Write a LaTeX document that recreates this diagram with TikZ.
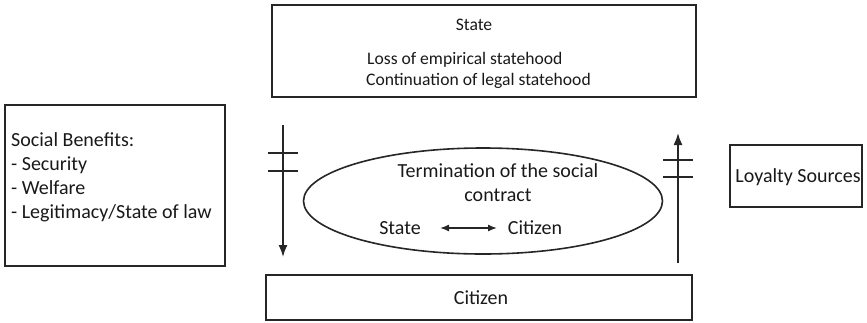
\documentclass[tikz,border=0pt]{standalone}
\usepackage{fontspec}
\setmainfont{Carlito}
\usetikzlibrary{arrows.meta,shapes.geometric}
\begin{document}
\begin{tikzpicture}[x=1pt,y=-1pt,
  box/.style={draw=black!85,line width=1.6pt,inner sep=0pt},
  lbl/.style={font=\fontsize{20}{24}\selectfont,text=black!90,inner sep=0pt},
  slbl/.style={font=\fontsize{17.6}{21}\selectfont,text=black!90,inner sep=0pt},
  conn/.style={draw=black!85,line width=1.6pt},
  tick/.style={draw=black!85,line width=1.4pt}]
\useasboundingbox (0,0) rectangle (867,322);
% boxes
\draw[box] (272,5) rectangle (696,97);
\draw[box] (5,105) rectangle (225,266);
\draw[box] (730,145) rectangle (862,207);
\draw[box] (266,275) rectangle (692,320);
\node[box,ellipse,minimum width=359pt,minimum height=106pt] (ell) at (483,201) {};
% texts
\node[slbl] (tstate) at (474,25) {State};
\node[slbl,anchor=west] (tloss) at (367,60) {Loss of empirical statehood};
\node[slbl,anchor=west] (tcont) at (366,81) {Continuation of legal statehood};
\node[lbl,anchor=west,align=left] (tben) at (11,177) {Social Benefits:\\- Security\\- Welfare\\- Legitimacy/State of law};
\node[lbl] (tloy) at (798,177) {Loyalty Sources};
\node[lbl] (tcit) at (481,298) {Citizen};
\node[lbl,align=center] (tterm) at (498,183) {Termination of the social\\contract};
\node[lbl] (estate) at (400,228) {State};
\node[lbl] (ecit) at (535,228) {Citizen};
\draw[conn,line width=1.4pt,{Latex[length=9pt,width=7pt]}-{Latex[length=9pt,width=7pt]}] (440,228) -- (497,228);
% left arrow
\coordinate (la) at (283,125);
\coordinate (lb) at (283,257);
\draw[conn,-{Latex[length=12pt,width=9pt]}] (la) -- (lb);
\draw[tick] (268,153) -- (298,153);
\draw[tick] (268,171) -- (298,171);
% right arrow
\coordinate (ra) at (678,263);
\coordinate (rb) at (678,133);
\draw[conn,-{Latex[length=12pt,width=9pt]}] (ra) -- (rb);
\draw[tick] (663,160) -- (693,160);
\draw[tick] (663,177) -- (693,177);
\end{tikzpicture}
\end{document}
